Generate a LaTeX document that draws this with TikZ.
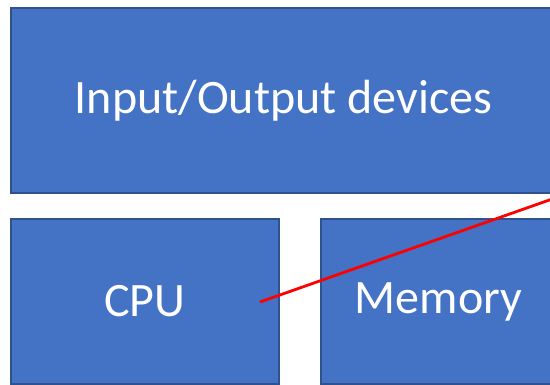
\documentclass[tikz,border=0pt]{standalone}
\usepackage{fontspec}
\setmainfont{Carlito}
\definecolor{boxfill}{HTML}{4472C4}
\definecolor{boxedge}{HTML}{2F528F}
\begin{document}
\begin{tikzpicture}[x=1pt,y=1pt,
  block/.style={draw=boxedge, line width=2pt, fill=boxfill, text=white, font=\fontsize{48}{58}\selectfont, inner sep=0pt}]
\useasboundingbox (0,0) rectangle (550,385);
\begin{scope}
\clip (0,0) rectangle (550,385);
\node[block, minimum width=545pt, minimum height=185pt, anchor=north west] (io) at (10,378) {\raisebox{-3pt}{Input/Output devices}};
\node[block, minimum width=268pt, minimum height=165pt, anchor=north west] (cpu) at (10,167) {\raisebox{-2pt}{CPU}};
\node[block, minimum width=235pt, minimum height=165pt, anchor=north west] (mem) at (320,167) {\raisebox{-2pt}{Memory}};
\coordinate (a) at (260,83);
\coordinate (b) at (565,190.5);
\draw[red, line width=2.8pt] (a) -- (b);
\end{scope}
\end{tikzpicture}
\end{document}
